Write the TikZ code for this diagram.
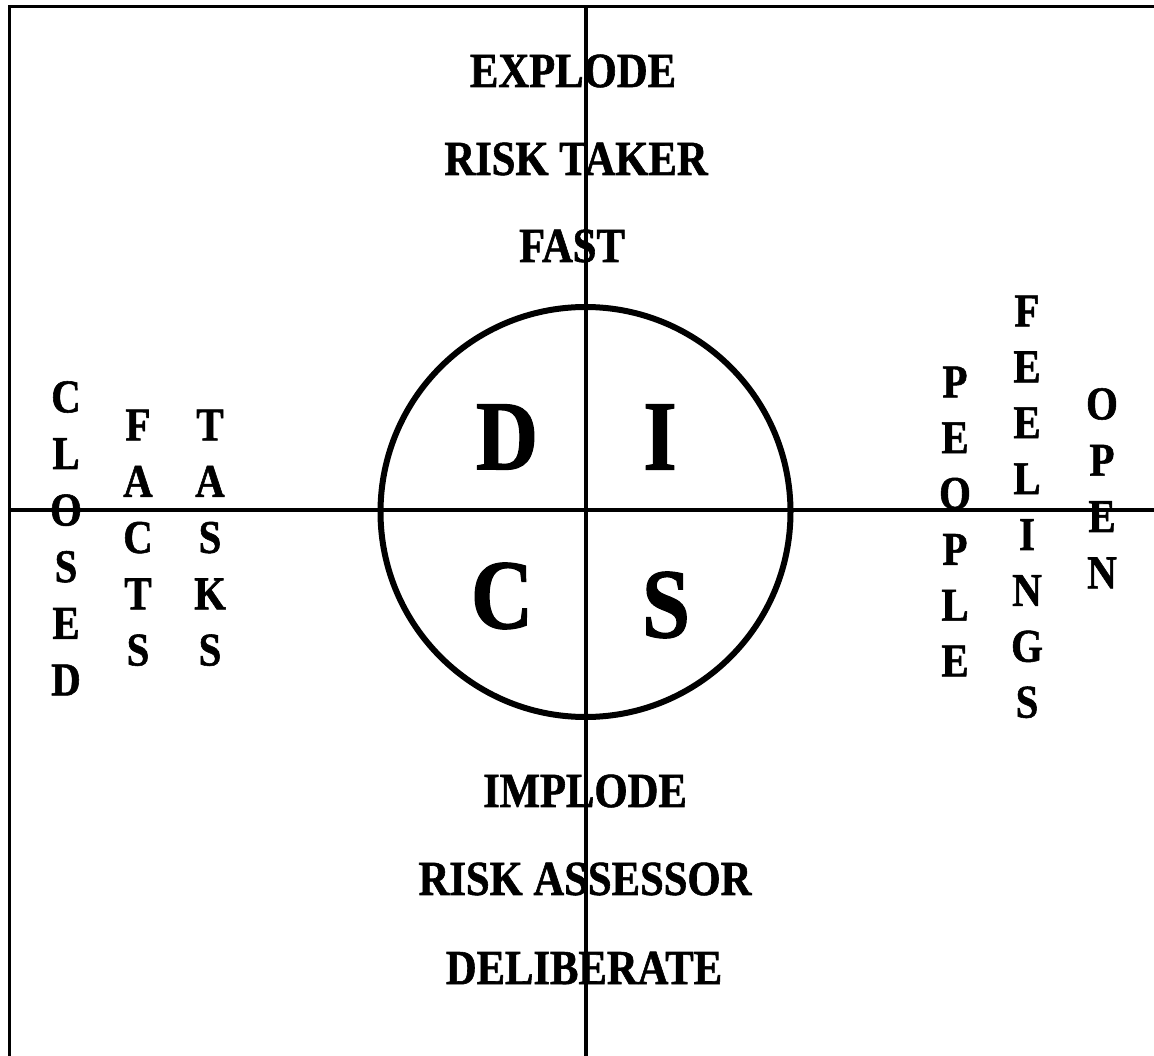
\documentclass[tikz,border=0pt]{standalone}
\usepackage{fontspec}
\setmainfont{Liberation Serif}[BoldFont={Liberation Serif Bold},BoldFeatures={FakeStretch=0.87,FakeBold=1.2}]
\begin{document}
\begin{tikzpicture}[x=1pt,y=-1pt,
  label/.style={font=\fontsize{49}{56}\selectfont\bfseries, inner sep=0pt, anchor=center},
  letter/.style={font=\fontsize{47}{56}\selectfont\bfseries, inner sep=0pt, anchor=center},
  big/.style={font=\fontsize{99}{110}\selectfont\bfseries, inner sep=0pt, anchor=center},
  frame/.style={line width=3.2pt},
  vaxis/.style={line width=4pt},
  haxis/.style={line width=3.4pt},
  ring/.style={line width=6pt}]
\useasboundingbox (0,0) rectangle (1154,1056);
% frame
\coordinate (tl) at (9.5,6.5);
\coordinate (tr) at (1160,6.5);
\coordinate (bl) at (9.5,1060);
\draw[frame] (bl) -- (tl) -- (tr);
% axes
\coordinate (vtop) at (585.5,6.5);
\coordinate (vbot) at (585.5,1060);
\coordinate (hleft) at (9.5,510);
\coordinate (hright) at (1160,510);
\draw[vaxis] (vtop) -- (vbot);
\draw[haxis] (hleft) -- (hright);
% circle
\coordinate (centre) at (585.5,512);
\draw[ring] (centre) circle[radius=205];
% quadrant letters
\node[big] (qD) at (507,437) {D};
\node[big] (qI) at (660,437) {I};
\node[big] (qC) at (502,596) {C};
\node[big] (qS) at (666,605) {S};
% top texts
\node[label] (explode) at (573,71) {EXPLODE};
\node[label] (risktaker) at (576,159) {RISK TAKER};
\node[label] (fast) at (572,246) {FAST};
% bottom texts
\node[label] (implode) at (585,791) {IMPLODE};
\node[label] (riskassessor) at (585,879) {RISK ASSESSOR};
\node[label] (deliberate) at (584,968) {DELIBERATE};
% left columns
\foreach \l [count=\i] in {C,L,O,S,E,D}
  \node[letter] (closed\i) at (66,{397+56.6*(\i-1)}) {\l};
\foreach \l [count=\i] in {F,A,C,T,S}
  \node[letter] (facts\i) at (138,{425+56.3*(\i-1)}) {\l};
\foreach \l [count=\i] in {T,A,S,K,S}
  \node[letter] (tasks\i) at (210,{425+56.3*(\i-1)}) {\l};
% right columns
\foreach \l [count=\i] in {P,E,O,P,L,E}
  \node[letter] (people\i) at (955,{382+55.8*(\i-1)}) {\l};
\foreach \l [count=\i] in {F,E,E,L,I,N,G,S}
  \node[letter] (feelings\i) at (1027,{311+55.9*(\i-1)}) {\l};
\foreach \l [count=\i] in {O,P,E,N}
  \node[letter] (open\i) at (1102,{404+56.3*(\i-1)}) {\l};
\end{tikzpicture}
\end{document}
